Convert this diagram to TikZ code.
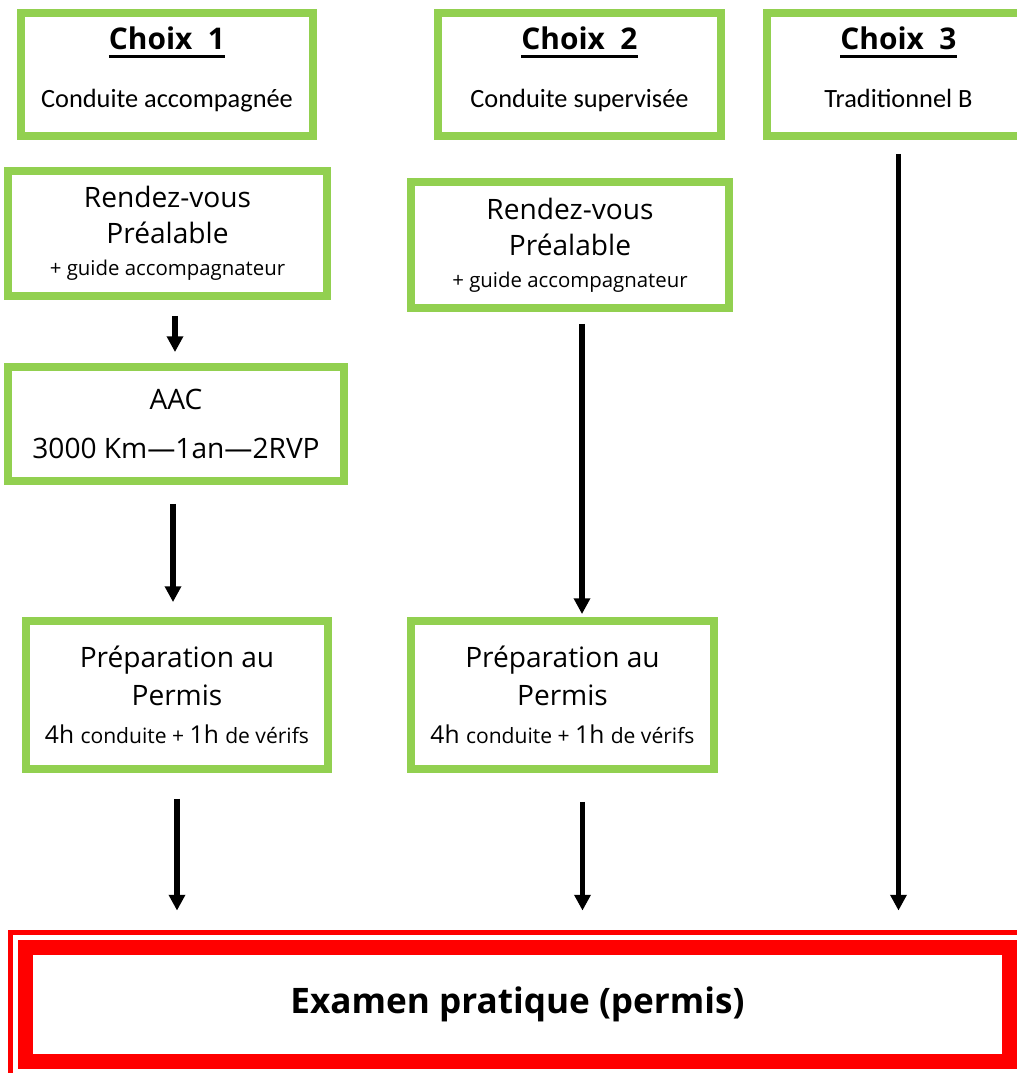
\documentclass[tikz,border=0pt]{standalone}
\usepackage{fontspec}
\setmainfont{Open Sans}
\newfontfamily\calib{Carlito}
\usetikzlibrary{arrows.meta,positioning}
\definecolor{boxgreen}{RGB}{146,208,80}
\newcommand{\thickul}[1]{\setbox0\hbox{#1}\rlap{\rule[-4.5pt]{\wd0}{1.7pt}}\box0}
\newcommand{\smalltxt}{\fontsize{11.6}{13}\selectfont}
\newcommand{\hourtxt}{\fontsize{14}{16}\selectfont}
\newcommand{\notetxt}{\fontsize{12}{14}\selectfont}
\tikzset{
  choice/.style={
    draw = boxgreen,
    line width = 4.5pt,
    fill = white,
    align = center,
    inner sep = 0pt,
    minimum height = 2.46cm,
    font = \fontsize{17}{19}\selectfont
  },
  stage/.style={
    draw = boxgreen,
    line width = 4.5pt,
    fill = white,
    align = center,
    inner sep = 0pt,
    font = \fontsize{16}{20.5}\selectfont
  },
  exambox/.style={
    draw = red,
    line width = 8.5pt,
    fill = white,
    inner sep = 0pt,
    font = \fontsize{20}{24}\selectfont\bfseries
  },
  arr/.style={
    line width = 3pt,
    -{Triangle[length=9pt,width=9pt]}
  }
}
\begin{document}
\begin{tikzpicture}[x=0.02cm, y=-0.02cm]
    \useasboundingbox (0,0) rectangle (1017,1073);
    % the three choices
    \node[choice, minimum width=5.84cm] (c1) at (167,74.5)
        {\bfseries\thickul{Choix\ \ 1}\\[14pt]{\calib\fontsize{15}{17}\selectfont Conduite accompagnée}\\[-11pt]};
    \node[choice, minimum width=5.66cm] (c2) at (579.5,74.5)
        {\bfseries\thickul{Choix\ \ 2}\\[14pt]{\calib\fontsize{15}{17}\selectfont Conduite supervisée}\\[-11pt]};
    \node[choice, minimum width=5.26cm] (c3) at (898.5,74.5)
        {\bfseries\thickul{Choix\ \ 3}\\[14pt]{\calib\fontsize{15}{17}\selectfont Traditionnel B}\\[-11pt]};
    % stages
    \node[stage, minimum width=6.38cm, minimum height=2.5cm] (rdv1) at (167.5,233.5)
        {Rendez-vous\\Préalable\\[-2.5pt]{\smalltxt + guide accompagnateur}};
    \node[stage, minimum width=6.36cm, minimum height=2.52cm] (rdv2) at (570,245)
        {Rendez-vous\\Préalable\\[-2.5pt]{\smalltxt + guide accompagnateur}};
    \node[stage, minimum width=6.72cm, minimum height=2.28cm] (aac) at (176,424)
        {AAC\\[7.5pt]3000 Km—1an—2RVP};
    \node[stage, minimum width=6.04cm, minimum height=2.96cm] (prep1) at (177,695)
        {Préparation au\\[1pt]Permis\\[1.5pt]{\hourtxt 4h \notetxt conduite + \hourtxt 1h \notetxt de vérifs}};
    \node[stage, minimum width=6.06cm, minimum height=2.96cm] (prep2) at (562.5,695)
        {Préparation au\\[1pt]Permis\\[1.5pt]{\hourtxt 4h \notetxt conduite + \hourtxt 1h \notetxt de vérifs}};
    % exam
    \draw[red, line width=2.8pt] (1030,932.5) -| (10.5,1090);
    \node[exambox, minimum width=19.68cm, minimum height=2.28cm] (exam) at (517.5,1004.5)
        {Examen pratique (permis)};
    % arrows
    \draw[arr, shorten <=0.32cm, shorten >=0.22cm] ([xshift=-0.02cm]rdv1.south -| aac.north) -- ([xshift=-0.02cm]aac.north);
    \draw[arr, shorten <=0.38cm, shorten >=0.3cm] ([xshift=-0.06cm]aac.south) -- ([xshift=-0.06cm]aac.south |- prep1.north);
    \draw[arr, shorten <=0.24cm, shorten >=0.06cm] ([xshift=0.24cm]rdv2.south) -- ([xshift=0.24cm]rdv2.south |- prep2.north);
    \draw[arr, shorten <=0.28cm, shorten >=0.59cm] (c3.south) -- (c3.south |- exam.north);
    \draw[arr, shorten <=0.52cm, shorten >=0.59cm] (prep1.south) -- (prep1.south |- exam.north);
    \draw[arr, shorten <=0.58cm, shorten >=0.59cm] ([xshift=0.4cm]prep2.south) -- ([xshift=0.4cm]prep2.south |- exam.north);
\end{tikzpicture}
\end{document}
